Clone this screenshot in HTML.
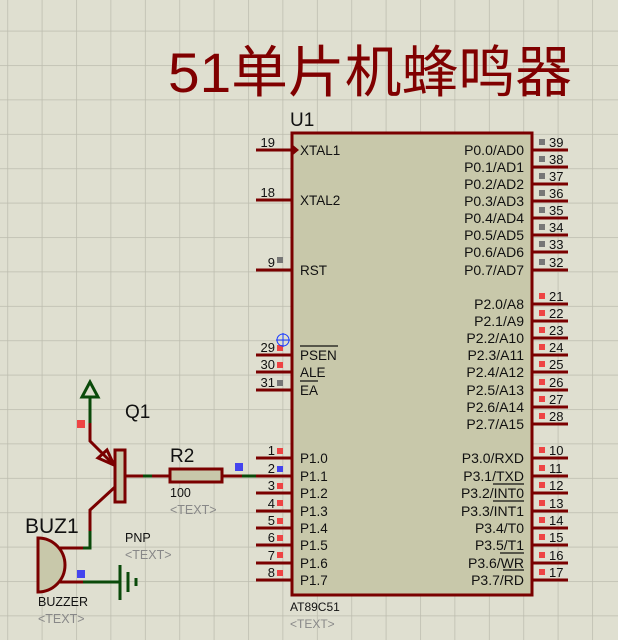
<!DOCTYPE html>
<html><head><meta charset="utf-8"><style>
html,body{margin:0;padding:0;background:#dfdfd0;}
svg{display:block;font-family:"Liberation Sans",Arial,sans-serif;}
</style></head><body>
<svg width="618" height="640" viewBox="0 0 618 640" xmlns="http://www.w3.org/2000/svg">
<defs>
<pattern id="g" x="7.3" y="30.7" width="34.4" height="34.4" patternUnits="userSpaceOnUse">
<path d="M0 0H34.4M0 0V34.4" stroke="#bcbcae" stroke-width="1.5" fill="none"/>
</pattern>
</defs>
<rect width="618" height="640" fill="#dfdfd0"/>
<rect width="618" height="640" fill="url(#g)"/>

<text x="168" y="92" font-size="56" fill="#800000" textLength="404" lengthAdjust="spacingAndGlyphs" font-family="Liberation Sans, Noto Sans CJK SC, sans-serif">51单片机蜂鸣器</text>

<text x="290" y="126" font-size="19" fill="#111">U1</text>
<rect x="292" y="133" width="240" height="462" fill="#c8c8aa" stroke="#7a0000" stroke-width="3"/>

<g stroke="#7a0000" stroke-width="3">
<line x1="256" y1="150" x2="292" y2="150"/>
<line x1="256" y1="200" x2="292" y2="200"/>
<line x1="256" y1="270" x2="292" y2="270"/>
<line x1="256" y1="355" x2="292" y2="355"/>
<line x1="256" y1="372" x2="292" y2="372"/>
<line x1="256" y1="390" x2="292" y2="390"/>
<line x1="256" y1="458" x2="292" y2="458"/>
<line x1="256" y1="476" x2="292" y2="476"/>
<line x1="256" y1="493" x2="292" y2="493"/>
<line x1="256" y1="511" x2="292" y2="511"/>
<line x1="256" y1="528" x2="292" y2="528"/>
<line x1="256" y1="545" x2="292" y2="545"/>
<line x1="256" y1="563" x2="292" y2="563"/>
<line x1="256" y1="580" x2="292" y2="580"/>
</g>
<g stroke="#7a0000" stroke-width="3">
<line x1="532" y1="150" x2="568" y2="150"/><line x1="532" y1="167" x2="568" y2="167"/>
<line x1="532" y1="184" x2="568" y2="184"/><line x1="532" y1="201" x2="568" y2="201"/>
<line x1="532" y1="218" x2="568" y2="218"/><line x1="532" y1="235" x2="568" y2="235"/>
<line x1="532" y1="252" x2="568" y2="252"/><line x1="532" y1="270" x2="568" y2="270"/>
<line x1="532" y1="304" x2="568" y2="304"/><line x1="532" y1="321" x2="568" y2="321"/>
<line x1="532" y1="338" x2="568" y2="338"/><line x1="532" y1="355" x2="568" y2="355"/>
<line x1="532" y1="372" x2="568" y2="372"/><line x1="532" y1="390" x2="568" y2="390"/>
<line x1="532" y1="407" x2="568" y2="407"/><line x1="532" y1="424" x2="568" y2="424"/>
<line x1="532" y1="458" x2="568" y2="458"/><line x1="532" y1="476" x2="568" y2="476"/>
<line x1="532" y1="493" x2="568" y2="493"/><line x1="532" y1="511" x2="568" y2="511"/>
<line x1="532" y1="528" x2="568" y2="528"/><line x1="532" y1="545" x2="568" y2="545"/>
<line x1="532" y1="563" x2="568" y2="563"/><line x1="532" y1="580" x2="568" y2="580"/>
</g>
<path d="M293 145 L299 150 L293 155Z" fill="#7a0000"/>

<g font-size="13.5" fill="#111">
<text x="300" y="155">XTAL1</text><text x="300" y="205">XTAL2</text><text x="300" y="275">RST</text>
<text x="300" y="360">PSEN</text><text x="300" y="377">ALE</text><text x="300" y="395">EA</text>
<text x="300" y="463">P1.0</text><text x="300" y="481">P1.1</text><text x="300" y="498">P1.2</text>
<text x="300" y="516">P1.3</text><text x="300" y="533">P1.4</text><text x="300" y="550">P1.5</text>
<text x="300" y="568">P1.6</text><text x="300" y="585">P1.7</text>
</g>
<g stroke="#111" stroke-width="1.2"><line x1="300" y1="346" x2="338" y2="346"/><line x1="300" y1="381" x2="318" y2="381"/></g>
<g font-size="14" fill="#111" text-anchor="end">
<text x="524" y="155">P0.0/AD0</text><text x="524" y="172">P0.1/AD1</text><text x="524" y="189">P0.2/AD2</text>
<text x="524" y="206">P0.3/AD3</text><text x="524" y="223">P0.4/AD4</text><text x="524" y="240">P0.5/AD5</text>
<text x="524" y="257">P0.6/AD6</text><text x="524" y="275">P0.7/AD7</text>
<text x="524" y="309">P2.0/A8</text><text x="524" y="326">P2.1/A9</text><text x="524" y="343">P2.2/A10</text>
<text x="524" y="360">P2.3/A11</text><text x="524" y="377">P2.4/A12</text><text x="524" y="395">P2.5/A13</text>
<text x="524" y="412">P2.6/A14</text><text x="524" y="429">P2.7/A15</text>
<text x="524" y="463">P3.0/RXD</text><text x="524" y="481">P3.1/TXD</text><text x="524" y="498">P3.2/INT0</text>
<text x="524" y="516">P3.3/INT1</text><text x="524" y="533">P3.4/T0</text><text x="524" y="550">P3.5/T1</text>
<text x="524" y="568">P3.6/WR</text><text x="524" y="585">P3.7/RD</text>
</g>
<g stroke="#111" stroke-width="1.2">
<line x1="493" y1="484" x2="524" y2="484"/><line x1="493" y1="501" x2="524" y2="501"/>
<line x1="500" y1="553" x2="524" y2="553"/><line x1="503" y1="570" x2="524" y2="570"/>
</g>

<g font-size="13" fill="#111" text-anchor="end">
<text x="275" y="147">19</text><text x="275" y="197">18</text><text x="275" y="267">9</text>
<text x="275" y="352">29</text><text x="275" y="369">30</text><text x="275" y="387">31</text>
<text x="275" y="455">1</text><text x="275" y="473">2</text><text x="275" y="490">3</text>
<text x="275" y="508">4</text><text x="275" y="525">5</text><text x="275" y="542">6</text>
<text x="275" y="560">7</text><text x="275" y="577">8</text>
</g>
<g fill="#ee4444">
<rect x="277" y="345" width="6" height="6"/><rect x="277" y="362" width="6" height="6"/>
<rect x="277" y="448" width="6" height="6"/><rect x="277" y="483" width="6" height="6"/>
<rect x="277" y="500" width="6" height="6"/><rect x="277" y="518" width="6" height="6"/>
<rect x="277" y="535" width="6" height="6"/><rect x="277" y="552" width="6" height="6"/>
<rect x="277" y="570" width="6" height="6"/>
</g>
<rect x="277" y="466" width="6" height="6" fill="#4444ee"/>
<rect x="277" y="257" width="6" height="6" fill="#777"/><rect x="277" y="380" width="6" height="6" fill="#777"/>

<g font-size="13" fill="#111">
<text x="549" y="147">39</text><text x="549" y="164">38</text><text x="549" y="181">37</text>
<text x="549" y="198">36</text><text x="549" y="215">35</text><text x="549" y="232">34</text>
<text x="549" y="249">33</text><text x="549" y="267">32</text>
<text x="549" y="301">21</text><text x="549" y="318">22</text><text x="549" y="335">23</text>
<text x="549" y="352">24</text><text x="549" y="369">25</text><text x="549" y="387">26</text>
<text x="549" y="404">27</text><text x="549" y="421">28</text>
<text x="549" y="455">10</text><text x="549" y="473">11</text><text x="549" y="490">12</text>
<text x="549" y="508">13</text><text x="549" y="525">14</text><text x="549" y="542">15</text>
<text x="549" y="560">16</text><text x="549" y="577">17</text>
</g>
<g fill="#777">
<rect x="539" y="139" width="6" height="6"/><rect x="539" y="156" width="6" height="6"/>
<rect x="539" y="173" width="6" height="6"/><rect x="539" y="190" width="6" height="6"/>
<rect x="539" y="207" width="6" height="6"/><rect x="539" y="224" width="6" height="6"/>
<rect x="539" y="241" width="6" height="6"/><rect x="539" y="259" width="6" height="6"/>
</g>
<g fill="#ee4444">
<rect x="539" y="293" width="6" height="6"/><rect x="539" y="310" width="6" height="6"/>
<rect x="539" y="327" width="6" height="6"/><rect x="539" y="344" width="6" height="6"/>
<rect x="539" y="361" width="6" height="6"/><rect x="539" y="379" width="6" height="6"/>
<rect x="539" y="396" width="6" height="6"/><rect x="539" y="413" width="6" height="6"/>
<rect x="539" y="447" width="6" height="6"/><rect x="539" y="465" width="6" height="6"/>
<rect x="539" y="482" width="6" height="6"/><rect x="539" y="500" width="6" height="6"/>
<rect x="539" y="517" width="6" height="6"/><rect x="539" y="534" width="6" height="6"/>
<rect x="539" y="552" width="6" height="6"/><rect x="539" y="569" width="6" height="6"/>
</g>

<text x="290" y="611" font-size="12" fill="#111">AT89C51</text>
<text x="290" y="628" font-size="12" fill="#888">&lt;TEXT&gt;</text>

<g stroke="#1a3cff" stroke-width="1" fill="none"><circle cx="283" cy="340" r="6"/><line x1="276" y1="340" x2="290" y2="340"/><line x1="283" y1="333" x2="283" y2="347"/></g>

<g stroke="#7a0000" stroke-width="3" fill="none">
<line x1="125" y1="476" x2="170" y2="476"/>
<line x1="222" y1="476" x2="256" y2="476"/>
<polyline points="90,423 90,441 112,463"/>
<polyline points="115,487 90,510 90,548 60,548"/>
<line x1="60" y1="582" x2="118" y2="582"/>
</g>
<g stroke="#0a4a0a" stroke-width="3" fill="none">
<line x1="143" y1="476" x2="152" y2="476"/>
<line x1="242" y1="476" x2="256" y2="476"/>
<line x1="90" y1="396" x2="90" y2="423"/>
<polygon points="90,382 82,397 98,397"/>
<polyline points="90,531 90,548 83,548"/>
<line x1="83" y1="582" x2="120" y2="582"/>
<line x1="120" y1="565" x2="120" y2="600"/>
<line x1="128" y1="572" x2="128" y2="592"/>
<line x1="136" y1="578" x2="136" y2="586"/>
</g>
<polygon points="98,458 107,450 114,465" fill="none" stroke="#7a0000" stroke-width="3"/>
<rect x="115" y="450" width="10" height="52" fill="#c8c8aa" stroke="#7a0000" stroke-width="3"/>
<rect x="170" y="469" width="52" height="13" fill="#c8c8aa" stroke="#7a0000" stroke-width="3"/>
<path d="M38 538 A27 27 0 0 1 38 592 Z" fill="#c8c8aa" stroke="#7a0000" stroke-width="3"/>

<rect x="77" y="420" width="8" height="8" fill="#ee4444"/>
<rect x="235" y="463" width="8" height="8" fill="#4444ee"/>
<rect x="77" y="570" width="8" height="8" fill="#4444ee"/>

<text x="125" y="418" font-size="19" fill="#111">Q1</text>
<text x="170" y="462" font-size="19" fill="#111">R2</text>
<text x="170" y="497" font-size="12.5" fill="#111">100</text>
<text x="170" y="514" font-size="12.5" fill="#888">&lt;TEXT&gt;</text>
<text x="125" y="542" font-size="12.5" fill="#111">PNP</text>
<text x="125" y="559" font-size="12.5" fill="#888">&lt;TEXT&gt;</text>
<text x="25" y="533" font-size="21" fill="#111">BUZ1</text>
<text x="38" y="606" font-size="12.5" fill="#111">BUZZER</text>
<text x="38" y="623" font-size="12.5" fill="#888">&lt;TEXT&gt;</text>
</svg>
</body></html>
